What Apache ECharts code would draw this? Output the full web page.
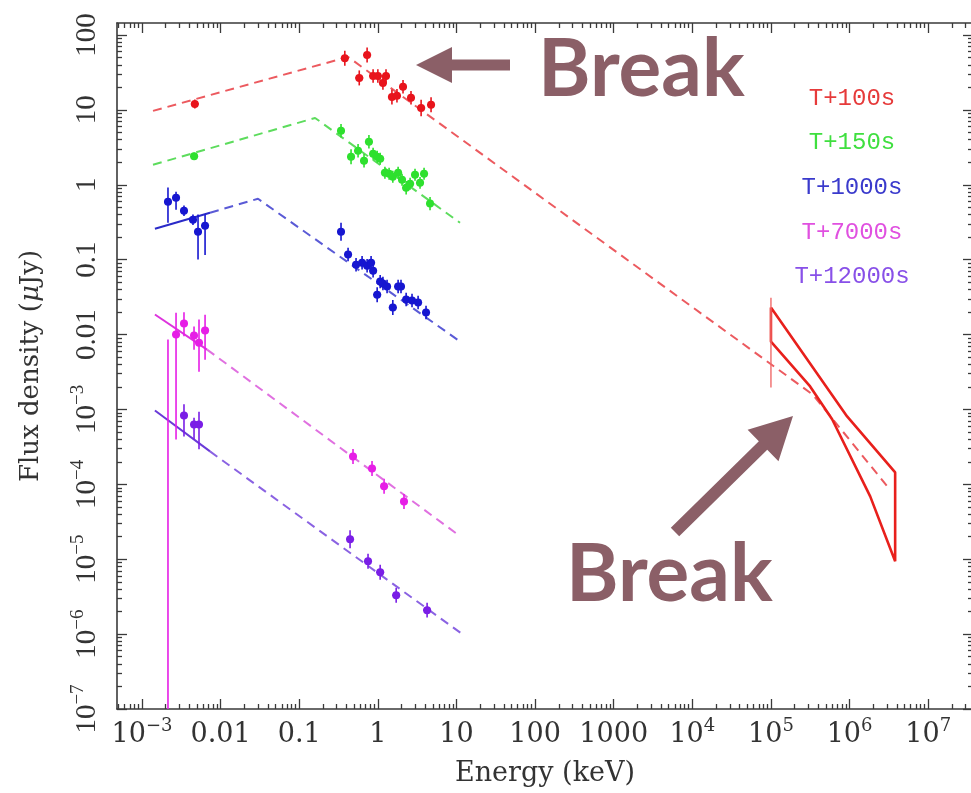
<!DOCTYPE html>
<html><head><meta charset="utf-8">
<script src="https://cdn.jsdelivr.net/npm/echarts@6/dist/echarts.min.js"></script>
<style>html,body{margin:0;padding:0;background:#fff}#c{width:971px;height:793px}</style>
</head><body><div id="c"></div><script>
// ---------- axis setup (log10 space) ----------
const xMinLog = -3.318, xMaxLog = 7.57;
const yMinLog = -7, yMaxLog = 2.16;
const xTickValues = [-3, -2, -1, 0, 1, 2, 3, 4, 5, 6, 7];
const xTickLabels = ['10{s|−3}', '0.01', '0.1', '1', '10', '100', '1000', '10{s|4}', '10{s|5}', '10{s|6}', '10{s|7}'];
const yTickValues = [2, 1, 0, -1, -2, -3, -4, -5, -6, -7];
const yTickLabels = ['100', '10', '1', '0.1', '0.01', '10{s|−3}', '10{s|−4}', '10{s|−5}', '10{s|−6}', '10{s|−7}'];
const seriesNames = ['T+100s', 'T+150s', 'T+1000s', 'T+7000s', 'T+12000s'];

// ---------- data: energy (keV), flux (uJy), error up/down (dex) ----------
const redE = [0.0047, 0.38, 0.73, 0.58, 0.87, 1.0, 1.16, 1.27, 1.51, 1.75, 2.09, 2.64, 3.55, 4.75];
const redF = [12.0, 49, 54, 26.7, 28.4, 28.4, 22.9, 28.4, 14.9, 15.4, 20.3, 14.5, 10.6, 11.7];
const redErrUp = [0.06, 0.1, 0.1, 0.1, 0.09, 0.09, 0.09, 0.09, 0.1, 0.09, 0.09, 0.09, 0.11, 0.1];
const redErrDn = [0.06, 0.1, 0.1, 0.1, 0.09, 0.09, 0.09, 0.09, 0.1, 0.09, 0.09, 0.09, 0.11, 0.1];

const greenE = [0.0046, 0.34, 0.456, 0.56, 0.667, 0.77, 0.87, 0.98, 1.07, 1.23, 1.39, 1.55, 1.81, 2.03, 2.29, 2.57, 2.97, 3.44, 3.87, 4.61];
const greenF = [2.4, 5.25, 2.36, 2.84, 2.09, 3.74, 2.59, 2.36, 2.22, 1.45, 1.40, 1.28, 1.45, 1.17, 0.91, 1.03, 1.36, 1.06, 1.40, 0.56];
const greenErrUp = [0.05, 0.09, 0.1, 0.09, 0.09, 0.09, 0.08, 0.08, 0.08, 0.08, 0.08, 0.08, 0.08, 0.08, 0.09, 0.08, 0.08, 0.08, 0.08, 0.09];
const greenErrDn = [0.05, 0.09, 0.1, 0.09, 0.09, 0.09, 0.08, 0.08, 0.08, 0.08, 0.08, 0.08, 0.08, 0.08, 0.09, 0.08, 0.08, 0.08, 0.08, 0.09];

const blueE = [0.00214, 0.00271, 0.00342, 0.00445, 0.00516, 0.00634, 0.34, 0.418, 0.528, 0.63, 0.73, 0.82, 0.87, 0.98, 1.07, 1.16, 1.31, 1.55, 1.81, 1.97, 2.29, 2.72, 3.25, 4.1];
const blueF = [0.593, 0.671, 0.45, 0.341, 0.236, 0.284, 0.236, 0.117, 0.0858, 0.0912, 0.083, 0.0912, 0.0713, 0.0341, 0.0509, 0.0479, 0.0437, 0.0229, 0.0437, 0.0437, 0.0293, 0.0285, 0.0267, 0.0197];
const blueErrUp = [0.19, 0.08, 0.07, 0.07, 0.23, 0.15, 0.12, 0.09, 0.09, 0.09, 0.09, 0.09, 0.09, 0.1, 0.09, 0.09, 0.09, 0.1, 0.09, 0.09, 0.09, 0.09, 0.09, 0.09];
const blueErrDn = [0.28, 0.16, 0.07, 0.07, 0.37, 0.39, 0.12, 0.09, 0.09, 0.09, 0.09, 0.09, 0.09, 0.1, 0.09, 0.09, 0.09, 0.1, 0.09, 0.09, 0.09, 0.09, 0.09, 0.09];

const magentaE = [0.00271, 0.00342, 0.00459, 0.00531, 0.00634, 0.483, 0.843, 1.2, 2.15];
const magentaF = [0.01, 0.014, 0.0097, 0.0078, 0.0113, 2.36e-4, 1.63e-4, 9.4e-5, 5.9e-5];
const magentaErrUp = [0.29, 0.15, 0.12, 0.31, 0.21, 0.1, 0.1, 0.1, 0.1];
const magentaErrDn = [1.4, 0.17, 0.19, 0.39, 0.39, 0.1, 0.1, 0.1, 0.1];
const magentaLimitE = [0.00214];
const magentaLimitHi = [0.0086];
const magentaLimitLo = [1e-8];

const purpleE = [0.00342, 0.00459, 0.00531, 0.443, 0.75, 1.07, 1.71, 4.23];
const purpleF = [8.3e-4, 6.3e-4, 6.3e-4, 1.85e-5, 9.4e-6, 6.7e-6, 3.3e-6, 2.09e-6];
const purpleErrUp = [0.15, 0.09, 0.17, 0.12, 0.1, 0.1, 0.1, 0.1];
const purpleErrDn = [0.28, 0.2, 0.33, 0.12, 0.1, 0.1, 0.1, 0.1];

// ---------- model lines ----------
const redModelE = [0.00138, 0.418, 3.4e5, 3.1e6];
const redModelF = [9.7, 50.9, 1.58e-3, 9.1e-5];
const greenModelE = [0.00138, 0.159, 11.1];
const greenModelF = [1.85, 7.8, 0.311];
const blueSolidE = [0.00146, 0.00733];
const blueSolidF = [0.259, 0.424];
const blueModelE = [0.00733, 0.0299, 11.1];
const blueModelF = [0.424, 0.65, 0.00807];
const magentaSolidE = [0.00146, 0.00672];
const magentaSolidF = [0.0185, 0.0063];
const magentaModelE = [0.00672, 11.1];
const magentaModelF = [0.0063, 2.03e-5];
const purpleSolidE = [0.00146, 0.00733];
const purpleSolidF = [9.7e-4, 2.75e-4];
const purpleModelE = [0.00733, 11.4];
const purpleModelF = [2.75e-4, 1.03e-6];

// ---------- high-energy bow-tie ----------
const bowUpperE = [1e5, 9.3e5, 3.8e6];
const bowUpperF = [0.0229, 8.07e-4, 1.44e-4];
const bowLowerE = [1e5, 3.15e5, 6.0e5, 1.83e6, 3.8e6];
const bowLowerF = [0.00807, 2.03e-3, 7.4e-4, 6.9e-5, 9.4e-6];
const bowBarE = [1e5];
const bowBarLo = [0.00196];
const bowBarHi = [0.0311];

// ---------- helpers ----------
const L = Math.log10;
function pts(E, F, up, dn) { return E.map((e, i) => [L(e), L(F[i]), L(F[i]) + up[i], L(F[i]) - dn[i]]); }
function linePts(E, F) { return E.map((e, i) => [L(e), L(F[i])]); }
function minorTicks(lo, hi) {
  const out = [];
  for (let n = Math.floor(lo) - 1; n <= Math.ceil(hi); n++) {
    for (let k = 2; k <= 9; k++) { const v = n + L(k); if (v > lo && v < hi) out.push(v); }
  }
  return out;
}
const xMinor = minorTicks(xMinLog, xMaxLog);
const yMinor = minorTicks(yMinLog, yMaxLog);

const C = {
  red: '#e8141c', redLine: '#ec5a5f',
  green: '#2ee02e', greenLine: '#5ddc5d',
  blue: '#1616d0', blueLine: '#5a5ad6', blueSolid: '#2a2ac8',
  magenta: '#e61ee6', magentaLine: '#e070e0', magentaSolid: '#dd33dd',
  purple: '#7a1ee6', purpleLine: '#8a62e2', purpleSolid: '#6a3ad8'
};

function errRender(color) {
  return function (params, api) {
    const cs = params.coordSys;
    const clampY = v => Math.max(cs.y, Math.min(cs.y + cs.height, v));
    const c = api.coord([api.value(0), api.value(1)]);
    const hi = api.coord([api.value(0), api.value(2)]);
    const lo = api.coord([api.value(0), api.value(3)]);
    return { type: 'group', children: [
      { type: 'line', shape: { x1: c[0], y1: clampY(hi[1]), x2: c[0], y2: clampY(lo[1]) }, style: { stroke: color, lineWidth: 1.6 } },
      { type: 'line', shape: { x1: c[0] - 4, y1: c[1], x2: c[0] + 4, y2: c[1] }, style: { stroke: color, lineWidth: 1.6 } },
      { type: 'circle', shape: { cx: c[0], cy: c[1], r: 4 }, style: { fill: color } }
    ] };
  };
}
function barRender(color, width) {
  return function (params, api) {
    const cs = params.coordSys;
    const clampY = v => Math.max(cs.y, Math.min(cs.y + cs.height, v));
    const hi = api.coord([api.value(0), api.value(1)]);
    const lo = api.coord([api.value(0), api.value(2)]);
    return { type: 'line', shape: { x1: hi[0], y1: clampY(hi[1]), x2: lo[0], y2: clampY(lo[1]) }, style: { stroke: color, lineWidth: width } };
  };
}
function pointSeries(name, data, color) {
  return { name, type: 'custom', xAxisIndex: 0, yAxisIndex: 0, data, renderItem: errRender(color), encode: { x: 0, y: 1 }, z: 5, silent: true };
}
function modelSeries(data, color, dashed, width) {
  return { type: 'line', xAxisIndex: 0, yAxisIndex: 0, data, showSymbol: false, symbol: 'none', silent: true, z: 3,
    lineStyle: { color, width: width || 2, type: dashed ? [9, 6] : 'solid' } };
}

const serifH = 'DejaVu Serif';
const serifV = 'Liberation Serif';
const axisColor = '#3a3a3a';
const xLabelFmt = v => { const i = xTickValues.indexOf(Math.round(v)); return (i >= 0 && Math.abs(v - Math.round(v)) < 1e-6) ? xTickLabels[i] : ''; };
const yLabelFmt = v => { const i = yTickValues.indexOf(Math.round(v)); return (i >= 0 && Math.abs(v - Math.round(v)) < 1e-6) ? yTickLabels[i] : ''; };

function xAx(grid, pos, major, showLabel, showLine) {
  return { type: 'value', gridIndex: grid, position: pos, min: xMinLog, max: xMaxLog,
    axisLine: { show: showLine, onZero: false, lineStyle: { color: axisColor, width: 1.6 } },
    axisTick: { show: true, inside: true, length: major ? 10 : 5, customValues: major ? xTickValues : xMinor, lineStyle: { color: axisColor, width: 1.3 } },
    axisLabel: { show: showLabel, customValues: xTickValues, formatter: xLabelFmt, margin: 8, color: '#333', fontFamily: serifH, fontSize: 27, lineHeight: 36,
      showMinLabel: true, showMaxLabel: true,
      rich: { s: { fontFamily: serifH, fontSize: 18, verticalAlign: 'top', lineHeight: 14, color: '#333' } } },
    splitLine: { show: false },
    name: showLabel ? 'Energy (keV)' : '', nameLocation: 'middle', nameGap: 51,
    nameTextStyle: { fontFamily: serifH, fontSize: 27, color: '#333' } };
}
function yAx(grid, pos, major, showLabel, showLine) {
  return { type: 'value', gridIndex: grid, position: pos, min: yMinLog, max: yMaxLog,
    axisLine: { show: showLine, onZero: false, lineStyle: { color: axisColor, width: 1.6 } },
    axisTick: { show: true, inside: true, length: major ? 10 : 5, customValues: major ? yTickValues : yMinor, lineStyle: { color: axisColor, width: 1.3 } },
    axisLabel: { show: showLabel, customValues: yTickValues, formatter: yLabelFmt, rotate: 90, margin: 12, color: '#333', fontFamily: serifV, fontSize: 29, lineHeight: 36,
      showMinLabel: true, showMaxLabel: true,
      rich: { s: { fontFamily: serifV, fontSize: 19, verticalAlign: 'top', lineHeight: 14, color: '#333' } } },
    splitLine: { show: false },
    name: showLabel ? 'Flux density ({i|μ}Jy)' : '', nameLocation: 'middle', nameGap: 73,
    nameTextStyle: { fontFamily: serifH, fontSize: 26, color: '#333', rich: { i: { fontFamily: serifH, fontStyle: 'italic', fontSize: 26, color: '#333' } } } };
}

const gridPos = { left: 117, top: 23, right: -2, bottom: 84, containLabel: false, outerBoundsMode: 'none' };

const series = [
  modelSeries(linePts(redModelE, redModelF), C.redLine, true),
  modelSeries(linePts(greenModelE, greenModelF), C.greenLine, true),
  modelSeries(linePts(blueSolidE, blueSolidF), C.blueSolid, false),
  modelSeries(linePts(blueModelE, blueModelF), C.blueLine, true),
  modelSeries(linePts(magentaSolidE, magentaSolidF), C.magentaSolid, false),
  modelSeries(linePts(magentaModelE, magentaModelF), C.magentaLine, true),
  modelSeries(linePts(purpleSolidE, purpleSolidF), C.purpleSolid, false),
  modelSeries(linePts(purpleModelE, purpleModelF), C.purpleLine, true),
  // bow-tie outline: upper edge, right edge, lower edge back, left edge
  modelSeries(linePts(bowUpperE.concat(bowLowerE.slice().reverse(), [bowUpperE[0]]),
                      bowUpperF.concat(bowLowerF.slice().reverse(), [bowUpperF[0]])), '#e8201c', false, 2.6),
  { type: 'custom', xAxisIndex: 0, yAxisIndex: 0, silent: true, z: 4, encode: { x: 0, y: 1 },
    data: bowBarE.map((e, i) => [L(e), L(bowBarHi[i]), L(bowBarLo[i])]), renderItem: barRender('#f06a6a', 1.4) },
  { type: 'custom', xAxisIndex: 0, yAxisIndex: 0, silent: true, z: 4, encode: { x: 0, y: 1 },
    data: magentaLimitE.map((e, i) => [L(e), L(magentaLimitHi[i]), L(magentaLimitLo[i])]), renderItem: barRender(C.magenta, 1.6) },
  pointSeries(seriesNames[0], pts(redE, redF, redErrUp, redErrDn), C.red),
  pointSeries(seriesNames[1], pts(greenE, greenF, greenErrUp, greenErrDn), C.green),
  pointSeries(seriesNames[2], pts(blueE, blueF, blueErrUp, blueErrDn), C.blue),
  pointSeries(seriesNames[3], pts(magentaE, magentaF, magentaErrUp, magentaErrDn), C.magenta),
  pointSeries(seriesNames[4], pts(purpleE, purpleF, purpleErrUp, purpleErrDn), C.purple)
];

const legendColors = ['#e63a3a', '#3fdf3f', '#3a3acc', '#e050e0', '#8850e8'];
const legendY = [99, 143, 188, 233, 277];
const breakColor = '#8b5f67';

// arrow shapes (annotations)
function arrowPoly(tail, tip, shaftW, headL, headW) {
  const dx = tip[0] - tail[0], dy = tip[1] - tail[1];
  const len = Math.hypot(dx, dy), ux = dx / len, uy = dy / len, nx = -uy, ny = ux;
  const bx = tip[0] - ux * headL, by = tip[1] - uy * headL;
  return [
    [tail[0] + nx * shaftW / 2, tail[1] + ny * shaftW / 2],
    [bx + nx * shaftW / 2, by + ny * shaftW / 2],
    [bx + nx * headW / 2, by + ny * headW / 2],
    tip,
    [bx - nx * headW / 2, by - ny * headW / 2],
    [bx - nx * shaftW / 2, by - ny * shaftW / 2],
    [tail[0] - nx * shaftW / 2, tail[1] - ny * shaftW / 2]
  ];
}

const graphic = [];
seriesNames.forEach((n, i) => graphic.push({ type: 'text', x: 852, y: legendY[i], z: 10,
  style: { text: n, fill: legendColors[i], font: '24px "Liberation Mono"', textAlign: 'center', textVerticalAlign: 'middle' } }));
graphic.push({ type: 'text', x: 538, y: 70, z: 10, style: { text: 'Break', fill: breakColor, font: 'bold 80px Lato', textAlign: 'left', textVerticalAlign: 'middle' } });
graphic.push({ type: 'text', x: 566, y: 575, z: 10, style: { text: 'Break', fill: breakColor, font: 'bold 80px Lato', textAlign: 'left', textVerticalAlign: 'middle' } });
graphic.push({ type: 'polygon', z: 10, shape: { points: arrowPoly([510, 65], [416, 65], 11, 36, 36) }, style: { fill: breakColor } });
graphic.push({ type: 'polygon', z: 10, shape: { points: arrowPoly([675, 532], [793, 416], 12, 42, 44) }, style: { fill: breakColor } });

const chart = echarts.init(document.getElementById('c'), null, { renderer: 'canvas' });
chart.setOption({
  animation: false,
  backgroundColor: '#fff',
  grid: [Object.assign({}, gridPos), Object.assign({}, gridPos)],
  xAxis: [xAx(0, 'bottom', true, true, true), xAx(0, 'top', true, false, true), xAx(1, 'bottom', false, false, false), xAx(1, 'top', false, false, false)],
  yAxis: [yAx(0, 'left', true, true, true), yAx(0, 'right', true, false, true), yAx(1, 'left', false, false, false), yAx(1, 'right', false, false, false)],
  series,
  graphic
});
</script></body></html>
